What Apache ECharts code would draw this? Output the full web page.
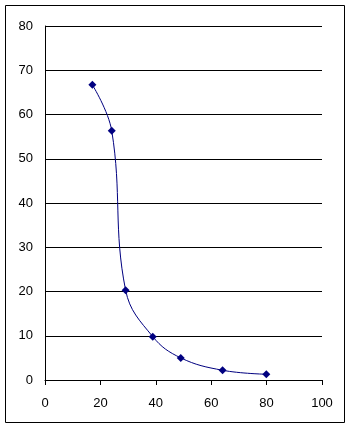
<!DOCTYPE html>
<html>
<head>
<meta charset="utf-8">
<script src="https://cdn.jsdelivr.net/npm/echarts@6/dist/echarts.min.js"></script>
<style>
  html, body { margin: 0; padding: 0; background: #fff; }
  #chart { width: 352px; height: 429px; }
</style>
</head>
<body>
<div id="chart"></div>
<script>
// 读图得到的数据
const xValues = [17.1, 24.1, 29.1, 38.9, 49, 64.1, 79.9]
const yValues = [66.7, 56.3, 20.3, 9.8, 5.0, 2.2, 1.3]

const chart = echarts.init(document.getElementById("chart"), null, { renderer: "canvas" })
const font = "\"Liberation Sans\", Arial, sans-serif"

let option = {
  animation: false,
  backgroundColor: "#fff",
  textStyle: { fontFamily: font },
  graphic: [
    {
      type: "rect",
      shape: { x: 5.5, y: 5.5, width: 339, height: 417 },
      style: { fill: "none", stroke: "#000", lineWidth: 1 }
    }
  ],
  grid: { left: 45, right: 30, top: 26, bottom: 49 },
  xAxis: {
    type: "value",
    min: 0,
    max: 100,
    interval: 20,
    axisLine: { show: true, lineStyle: { color: "#000", width: 1 } },
    axisTick: { show: true, length: 5, lineStyle: { color: "#000" } },
    axisLabel: { color: "#000", fontSize: 13, margin: 17 },
    splitLine: { show: false }
  },
  yAxis: {
    type: "value",
    min: 0,
    max: 80,
    interval: 10,
    axisLine: { show: true, lineStyle: { color: "#000", width: 1 } },
    axisTick: { show: false },
    axisLabel: { color: "#000", fontSize: 13, margin: 12 },
    splitLine: { show: true, lineStyle: { color: "#000", width: 1 } }
  },
  series: [
    {
      type: "line",
      smooth: 0.4,
      symbol: "diamond",
      symbolSize: 8,
      itemStyle: { color: "#000080" },
      lineStyle: { color: "#000080", width: 1 },
      data: xValues.map((x, i) => [x, yValues[i]])
    }
  ]
}
chart.setOption(option)
</script>
</body>
</html>
